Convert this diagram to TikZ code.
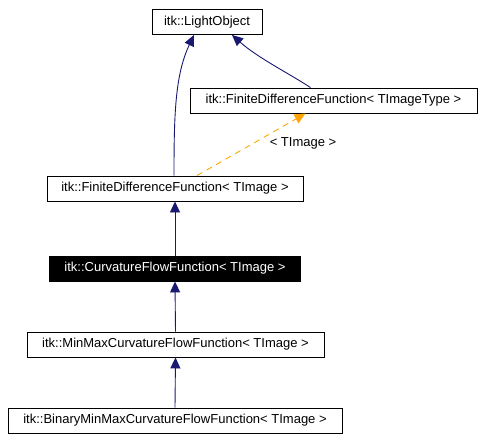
\documentclass[tikz,border=0pt]{standalone}
\usepackage{fontspec}
\setmainfont{Liberation Sans}
\usetikzlibrary{arrows.meta}
\definecolor{edgeblue}{HTML}{191970}
\definecolor{tmplorange}{HTML}{FFA500}
\tikzset{
  lblfont/.style={font=\fontsize{13}{15}\selectfont},
  cls/.style={draw=black, fill=white, rectangle, inner sep=0pt, line width=0.9pt, lblfont, text=black},
  clsdark/.style={cls, fill=black, text=white},
  inh/.style={draw=edgeblue, line width=0.9pt, -{Triangle[length=11pt,width=10pt]}},
  tmpl/.style={draw=tmplorange, line width=0.9pt, dash pattern=on 6pt off 5pt, -{Triangle[length=11pt,width=10pt]}},
}
\begin{document}
\begin{tikzpicture}[x=1pt,y=-1pt]
\useasboundingbox (0,0) rectangle (483,442);
\node[cls, minimum width=110pt, minimum height=25pt] (lo) at (207,22) {itk::LightObject};
\node[cls, minimum width=287pt, minimum height=25pt] (fdft) at (333.5,100.5) {itk::FiniteDifferenceFunction< TImageType >};
\node[cls, minimum width=256pt, minimum height=25pt] (fdf) at (175,188.5) {itk::FiniteDifferenceFunction< TImage >};
\node[clsdark, minimum width=251pt, minimum height=25pt] (cff) at (175,268.5) {itk::CurvatureFlowFunction< TImage >};
\node[cls, minimum width=297pt, minimum height=25pt] (mm) at (175.5,344.5) {itk::MinMaxCurvatureFlowFunction< TImage >};
\node[cls, minimum width=334pt, minimum height=25pt] (bmm) at (175,420.5) {itk::BinaryMinMaxCurvatureFlowFunction< TImage >};
\node[lblfont, inner sep=0pt] (lbl) at (303,143) {< TImage >};
% edges
\draw[inh] ([xshift=-1pt]fdf.north) .. controls (174,115) and (175,75) .. ([xshift=-13pt]lo.south);
\draw[inh] ([xshift=-23pt]fdft.north) .. controls (290,74) and (258,58) .. ([xshift=25pt]lo.south);
\draw[tmpl] ([xshift=22pt]fdf.north) -- ([xshift=-28pt]fdft.south);
\draw[inh] (cff.north) -- (fdf.south);
\draw[inh] (mm.north) -- (cff.south);
\draw[inh] (bmm.north) -- (mm.south);
\end{tikzpicture}
\end{document}
